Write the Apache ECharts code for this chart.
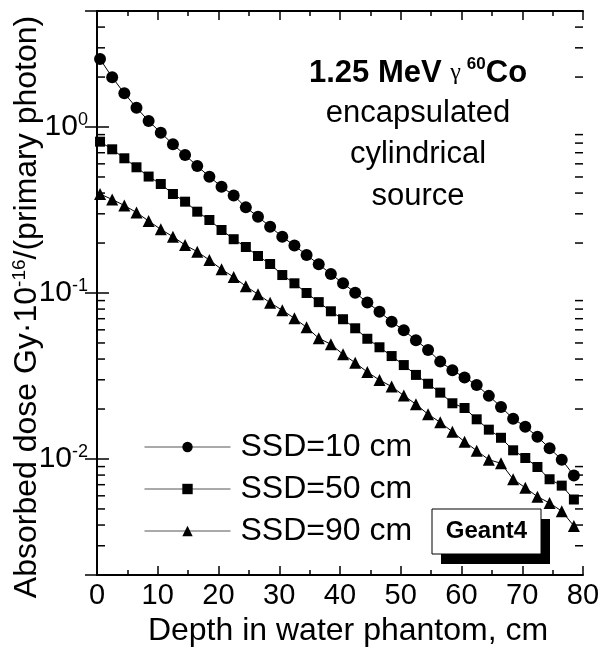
<!DOCTYPE html>
<html>
<head>
<meta charset="utf-8">
<script src="https://cdn.jsdelivr.net/npm/echarts@6/dist/echarts.min.js"></script>
<style>html,body{margin:0;padding:0;background:#fff}#c{width:599px;height:648px}</style>
</head>
<body>
<div id="c"></div>
<script>
var depth = [0.5,2.5,4.5,6.5,8.5,10.5,12.5,14.5,16.5,18.5,20.5,22.5,24.5,26.5,28.5,30.5,32.5,34.5,36.5,38.5,40.5,42.5,44.5,46.5,48.5,50.5,52.5,54.5,56.5,58.5,60.5,62.5,64.5,66.5,68.5,70.5,72.5,74.5,76.5,78.5];
var ssd10 = [2.568,1.993,1.596,1.307,1.087,0.924,0.787,0.678,0.582,0.502,0.437,0.387,0.328,0.288,0.251,0.218,0.193,0.1694,0.1489,0.1302,0.1144,0.1004,0.0877,0.0770,0.0672,0.0596,0.0519,0.0454,0.0386,0.0342,0.0310,0.0279,0.0240,0.0206,0.0175,0.01565,0.01362,0.01160,0.00990,0.00796];
var ssd50 = [0.816,0.734,0.648,0.572,0.503,0.4535,0.395,0.355,0.309,0.2753,0.2396,0.2109,0.1893,0.1671,0.1495,0.1283,0.1144,0.1000,0.0881,0.0776,0.0695,0.0613,0.0530,0.0471,0.0417,0.0368,0.0321,0.0284,0.0251,0.02166,0.02029,0.01734,0.01502,0.01342,0.01128,0.01014,0.00895,0.00755,0.00691,0.00570];
var ssd90 = [0.395,0.366,0.3367,0.3055,0.2715,0.2419,0.2184,0.1946,0.1773,0.1580,0.1389,0.1248,0.1097,0.0983,0.0874,0.0787,0.0704,0.0621,0.0534,0.0491,0.0427,0.0380,0.0334,0.0299,0.0273,0.0241,0.02136,0.01859,0.01663,0.01460,0.01271,0.01122,0.00990,0.00942,0.00755,0.00671,0.00593,0.00543,0.00485,0.00395];
var seriesNames = ['SSD=10 cm','SSD=50 cm','SSD=90 cm'];
var xTicks = [0,10,20,30,40,50,60,70,80];
var yMinorTicks = [0.003,0.004,0.005,0.006,0.007,0.008,0.009,0.02,0.03,0.04,0.05,0.06,0.07,0.08,0.09,0.2,0.3,0.4,0.5,0.6,0.7,0.8,0.9,2,3,4];

var FONT = '"Liberation Sans", Arial, sans-serif';
var chart = echarts.init(document.getElementById('c'), null, {renderer:'canvas'});

function pair(xs, ys){ return xs.map(function(x,i){ return [x, ys[i]]; }); }
function yLab(v){
  var e = Math.log10(v);
  if (Math.abs(e - Math.round(e)) > 1e-6) return '';
  return '{b|10}{s|' + Math.round(e) + '}';
}
function mkSeries(name, data, sym, size){
  return {
    name: name, type: 'line', data: pair(depth, data),
    symbol: sym, symbolSize: size, showSymbol: true,
    lineStyle: {color:'#000', width:1},
    itemStyle: {color:'#000', borderColor:'#000', borderWidth:0},
    emphasis: {disabled:true}, z: 3
  };
}
var axisLineStyle = {show:true, lineStyle:{color:'#000', width:2}};
var option = {
  animation: false,
  backgroundColor: '#fff',
  grid: {left:97, right:16, top:11, bottom:73, containLabel:false, outerBoundsMode:'none'},
  legend: {
    data: seriesNames, orient:'vertical', left:139, top:425,
    itemWidth:86, itemHeight:13, itemGap:8,
    textStyle:{fontFamily:FONT, fontSize:32, color:'#000', lineHeight:34, padding:[0,0,0,5]},
    lineStyle:{color:'#555', width:1},
    selectedMode:false
  },
  xAxis: [{
    type:'value', min:0, max:80, interval:10, position:'bottom',
    axisLine: axisLineStyle,
    axisTick:{show:true, inside:true, length:9, lineStyle:{color:'#000', width:1.5}},
    minorTick:{show:true, splitNumber:2, length:5, lineStyle:{color:'#000', width:1.5}},
    splitLine:{show:false},
    axisLabel:{fontFamily:FONT, fontSize:29, color:'#000', margin:6,
      formatter:function(v){ return xTicks.indexOf(v) >= 0 ? String(v) : ''; }},
    name:'Depth in water phantom, cm', nameLocation:'middle', nameGap:32,
    nameTextStyle:{fontFamily:FONT, fontSize:32, color:'#000', padding:[0,0,0,16]}
  },{
    type:'value', min:0, max:80, interval:10, position:'top',
    axisLine: axisLineStyle,
    axisTick:{show:true, inside:true, length:9, lineStyle:{color:'#000', width:1.5}},
    minorTick:{show:true, splitNumber:2, length:5, lineStyle:{color:'#000', width:1.5}},
    splitLine:{show:false}, axisLabel:{show:false}
  }],
  yAxis: [{
    type:'log', logBase:10, min:0.002, max:5, position:'left',
    axisLine: axisLineStyle,
    axisTick:{show:true, inside:true, length:12, lineStyle:{color:'#000', width:1.5}},
    minorTick:{show:false}, splitLine:{show:false},
    axisLabel:{formatter:yLab, margin:9,
      rich:{b:{fontFamily:FONT, fontSize:30, color:'#000', lineHeight:32},
            s:{fontFamily:FONT, fontSize:18, color:'#000', verticalAlign:'top', lineHeight:18}}}
  },{
    type:'log', logBase:10, min:0.002, max:5, position:'right',
    axisLine: axisLineStyle,
    axisTick:{show:true, inside:true, length:12, lineStyle:{color:'#000', width:1.5}},
    minorTick:{show:false}, splitLine:{show:false}, axisLabel:{show:false}
  }],
  graphic: [
    {type:'text', x:27, y:307, rotation:Math.PI/2, style:{
      text:'{a|Absorbed dose Gy·10}{s|-16}{a|/(primary photon)}', align:'center', verticalAlign:'middle',
      rich:{a:{fontFamily:FONT, fontSize:32, fill:'#000', lineHeight:34},
            s:{fontFamily:FONT, fontSize:19, fill:'#000', verticalAlign:'top', lineHeight:19}}
    }},
    {type:'text', x:418, y:73, style:{
      text:'{b|1.25 MeV }{g|γ }{p|60}{b|Co}', align:'center', verticalAlign:'middle',
      rich:{b:{fontFamily:FONT, fontWeight:'bold', fontSize:31, fill:'#000', lineHeight:34},
            g:{fontFamily:'"Liberation Serif", serif', fontSize:24, fill:'#000', lineHeight:34},
            p:{fontFamily:FONT, fontWeight:'bold', fontSize:17, fill:'#000', verticalAlign:'top', lineHeight:17}}
    }},
    {type:'text', x:418, y:113, style:{text:'encapsulated', align:'center', verticalAlign:'middle', font:'31px ' + FONT, fill:'#000'}},
    {type:'text', x:418, y:154, style:{text:'cylindrical', align:'center', verticalAlign:'middle', font:'31px ' + FONT, fill:'#000'}},
    {type:'text', x:418, y:196, style:{text:'source', align:'center', verticalAlign:'middle', font:'31px ' + FONT, fill:'#000'}},
    {type:'rect', shape:{x:441, y:519, width:109, height:45}, style:{fill:'#000'}, z:10},
    {type:'rect', shape:{x:432, y:509, width:109, height:45}, style:{fill:'#fff', stroke:'#000', lineWidth:1}, z:11},
    {type:'text', x:486.5, y:531.5, style:{text:'Geant4', align:'center', verticalAlign:'middle', font:'bold 24px ' + FONT, fill:'#000'}, z:12}
  ],
  series: [
    mkSeries(seriesNames[0], ssd10, 'circle', 12),
    mkSeries(seriesNames[1], ssd50, 'rect', 10),
    mkSeries(seriesNames[2], ssd90, 'triangle', 12),
    {
      type:'custom', name:'minorTicks', silent:true, z:2,
      data: yMinorTicks.map(function(v){ return [0, v]; }),
      renderItem:function(params, api){
        var y = api.coord([0, api.value(1)])[1];
        var cs = params.coordSys;
        return {type:'group', children:[
          {type:'line', shape:{x1:cs.x, y1:y, x2:cs.x+8, y2:y}, style:{stroke:'#000', lineWidth:1.5}},
          {type:'line', shape:{x1:cs.x+cs.width, y1:y, x2:cs.x+cs.width-8, y2:y}, style:{stroke:'#000', lineWidth:1.5}}
        ]};
      }
    }
  ]
};
chart.setOption(option);
</script>
</body>
</html>
